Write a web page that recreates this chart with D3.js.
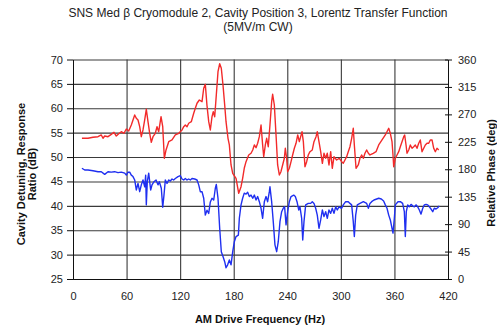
<!DOCTYPE html>
<html>
<head>
<meta charset="utf-8">
<script src="https://cdn.jsdelivr.net/npm/d3@7"></script>
<style>
  html, body { margin: 0; padding: 0; background: #fff; }
  svg { display: block; font-family: Arial, "Liberation Sans", sans-serif; }
</style>
</head>
<body>
<svg id="chart" width="497" height="327"></svg>
<script>
// Axis ticks
const xTicks = [0, 60, 120, 180, 240, 300, 360, 420];
const dbTicks = [25, 30, 35, 40, 45, 50, 55, 60, 65, 70];
const phaseTicks = [0, 45, 90, 135, 180, 225, 270, 315, 360];

// Detuning response ratio (dB), left axis
const freqDb = [10,13.1,16.8,22.4,28,31.7,35.5,39.2,42.9,46.6,50.4,54.1,57.9,59.7,61.6,63.5,65.3,67.2,69.1,70.9,72.8,74.7,76.5,78.4,80.3,81.4,82.1,83.2,84.8,87,88.5,90.7,93,95.2,96.7,98.9,100.5,101.9,103.4,105.3,107.2,109,110.9,112.7,114.6,117.6,120.2,122.1,124,125.8,127.7,129.6,131.4,133.3,136.3,138.9,140.8,142.6,144.5,146.4,148.2,150.1,152,153.8,155.7,157.6,159.4,160.5,162.4,164.3,166.1,168,169.9,171.4,173.2,175.1,177,178.9,180.7,182.6,185.2,186.3,188.2,190,191.8,193.8,195.6,197.5,199.4,201.3,203.1,205,206.8,208.7,210.6,212.4,214.3,216.2,218,219.9,220.6,222.5,224.3,226.2,228.1,229.9,231.8,233.7,235.5,237,238.6,240.4,242.3,244.2,247.2,249,250.9,252.8,254.2,256.1,257.3,258.7,260.6,263.5,266.2,268,269.9,271.8,273.6,275.5,277.4,279.3,281.1,283,284.8,286.7,288.6,290.4,292.3,294.2,296,297.9,300.9,302.7,305.4,308.3,310.2,312.1,313.9,315.1,316.6,318.4,321.4,325.2,328.9,330.8,332.6,334.5,337.1,342.4,345.3,347.9,349.8,351.7,353.6,355.4,357.3,358.4,359.9,361,364,366.6,369.2,371.1,372.2,373.3,374.9,376.7,378.6,380.4,382.3,384.2,386.1,387.9,389.8,391.7,393.5,395.4,397.3,399.1,401,402.9,404.6,406.6,408.5,410.2];
const ratioDb = [47.7,47.35,47.35,47.2,47.0,47.0,46.45,47.0,46.9,47.0,46.8,46.9,46.7,46.3,46.9,46.9,46.3,46.0,45.3,43.25,44.6,42.9,44.3,45.3,43.9,46.3,40.2,44.95,46.7,43.25,44.3,44.95,45.3,44.3,44.95,43.6,39.7,42.2,45.3,44.6,45.3,45.1,45.5,45.3,45.6,46.0,46.2,45.5,45.3,45.6,45.3,45.5,45.3,45.6,45.5,45.3,44.3,42.9,42.9,41.55,38.1,39.1,38.45,40.8,41.55,41.2,43.6,44.4,41.55,35.4,30.6,29.6,28.55,27.3,27.9,28.9,27.9,30.6,32.65,33.7,34.0,37.45,40.2,41.55,42.6,42.4,42.8,41.9,42.2,41.55,42.2,41.2,41.9,40.85,39.5,37.45,40.85,41.9,40.85,42.9,43.9,40.85,36.75,32.0,30.6,32.65,36.75,38.8,39.5,39.8,36.1,38.8,40.85,41.9,42.2,41.9,40.85,39.15,39.8,37.45,33.0,36.75,40.2,40.5,40.5,40.85,40.5,39.5,38.1,35.4,37.1,39.15,37.8,38.8,37.45,39.15,38.45,39.5,38.45,39.8,39.15,39.8,39.5,40.2,40.85,40.85,40.5,40.2,36.75,33.7,38.1,40.2,40.5,40.85,40.5,39.5,40.5,40.85,41.2,41.55,41.4,41.0,40.2,39.5,38.1,37.1,35.4,34.4,37.45,40.2,40.85,40.85,40.5,38.8,33.7,38.8,40.2,39.8,40.3,40.0,39.8,40.2,39.8,39.15,38.3,39.5,40.2,40.3,40.2,39.8,39.35,38.8,39.5,39.35,39.6,40.0];

// Relative phase (deg), right axis
const freqPhase = [10,16.8,22.4,28,31.7,33.6,35.5,39.2,42.9,45.9,48.5,51.2,54.1,57.1,59.7,62.4,65.3,69.1,70.9,72.8,74.7,76.5,78.4,80.3,82.1,84,85.9,87.7,89.6,92.2,94.1,96,98.6,100.5,102.3,104.2,107.2,110.9,114.6,118.4,122.1,124,125.8,127.7,129.6,132.5,135.2,137,138.9,141.5,144.5,146.4,148.2,150,152,153.8,155.7,157.1,158.7,160.5,162.4,164.3,166.1,168,169.9,171.4,173.6,175.1,177,178.9,182.6,185.6,188.2,190,191.8,193.8,196.8,199.4,201.3,203.1,205,206.8,208.7,210.6,212.4,213.6,215.4,216.9,218.7,220.6,222.5,223.6,225.5,227.4,229.2,231.1,232.9,234.8,236.7,237.8,239.3,240.4,242.3,244.2,246,247.9,249.8,251.7,253.5,256.5,258,259.8,261.7,263.5,265.4,268,269.9,272.2,273.6,275.5,277.4,279.3,281.1,283,284.8,286.7,288.6,290.4,292.3,295.3,298.3,300.9,302.7,304.6,306.5,308.3,310.2,312.1,313.9,315.1,317,319.5,321.4,323.3,325.2,327,328.9,330.8,332.6,336.3,339.4,342.4,346.1,349.8,353.6,355.4,357.3,358.4,359.2,361,362.9,364.8,366.6,368.5,370.4,371.5,373,374.1,376,377.8,379.7,381.6,383.4,385.3,387.2,389,390.9,392.8,394.6,396.5,398.4,400.2,402.1,404,405.8,407.7,409.6];
const phaseDeg = [230.8,230.8,232.4,233.4,236.2,230.8,234.5,233.4,237.3,240.6,234.5,238.3,241.6,239,246,242.7,252.6,269,263.6,260.8,249.8,233.4,244.4,260.8,278.3,258,239,224.2,233.4,239,249.8,241.6,266.2,249.8,198,211.6,225.2,228,236.2,239,244.4,249.8,252.6,249.8,255.4,258,271.8,280,288.2,293.6,290.8,312.8,319.3,285.4,258,244.4,266.2,274.4,266.2,301.8,340,353,345.6,318.2,285.4,258,230.8,219.8,187,173.4,165.2,140.5,151.4,165.2,181.6,192.4,203.4,206.2,211.6,219.8,215.3,222.6,233.4,252.6,219.8,200.6,219.8,230.8,217,252.6,290.8,302.9,285.4,236.2,187,170.6,176,187,198,214.4,198,176,181.6,192.4,203.4,214.4,222.6,236.2,225.2,241.6,225.2,184.2,192.4,203.4,208.8,211.6,225.2,233.4,241.6,225.2,208.8,189.8,206.2,198,206.2,187,208.8,181.6,200.6,195.2,198,192.4,189.8,195.2,200.6,208.8,217,230.8,247.2,219.8,181.6,187,198,203.4,198,206.2,211.6,206.2,203.4,206.2,208.8,219.8,228,236.2,247.2,239,225.2,203.4,184.2,198,203.4,208.8,217,225.2,233.4,236.2,219.8,206.2,211.6,219.8,214.4,217,219.8,214.4,222.6,228,208.8,214.4,219.8,222.6,222.6,228,228,214.4,208.8,214.4,211.6];

const svg = d3.select("#chart");
const plotLeft = 73, plotRight = 448, plotTop = 59.5, plotBottom = 279;

const x = d3.scaleLinear().domain([0, 420]).range([plotLeft, plotRight]);
const yDb = d3.scaleLinear().domain([25, 70]).range([plotBottom, plotTop]);
const yPh = d3.scaleLinear().domain([0, 360]).range([plotBottom, plotTop]);

// Gridlines
const grid = svg.append("g").attr("class", "grid");
grid.append("g")
  .attr("transform", `translate(${plotLeft},0)`)
  .call(d3.axisLeft(yDb).tickValues(dbTicks).tickSize(-(plotRight - plotLeft)).tickFormat(""))
  .call(g => g.select(".domain").remove())
  .call(g => g.selectAll("line").attr("stroke", "#3a3a3a").attr("stroke-width", 1.1));
grid.append("g")
  .attr("transform", `translate(0,${plotBottom})`)
  .call(d3.axisBottom(x).tickValues(xTicks.slice(1, -1)).tickSize(-(plotBottom - plotTop)).tickFormat(""))
  .call(g => g.select(".domain").remove())
  .call(g => g.selectAll("line").attr("stroke", "#3a3a3a").attr("stroke-width", 1.1));

// Series lines
const lineDb = d3.line().x((d, i) => x(freqDb[i])).y(d => yDb(d));
const linePh = d3.line().x((d, i) => x(freqPhase[i])).y(d => yPh(d));

svg.append("path").datum(ratioDb)
  .attr("d", lineDb).attr("fill", "none")
  .attr("stroke", "#1f2ff0").attr("stroke-width", 1.4).attr("stroke-linejoin", "round");
svg.append("path").datum(phaseDeg)
  .attr("d", linePh).attr("fill", "none")
  .attr("stroke", "#f22a2a").attr("stroke-width", 1.4).attr("stroke-linejoin", "round");

// Axes
const tickFont = g => g.selectAll("text")
  .attr("font-size", 11).attr("fill", "#222")
  .attr("font-family", 'Arial, "Liberation Sans", sans-serif');

svg.append("g")
  .attr("transform", `translate(${plotLeft},0)`)
  .call(d3.axisLeft(yDb).tickValues(dbTicks).tickSize(6).tickPadding(4).tickSizeOuter(0))
  .call(g => g.selectAll("path, line").attr("stroke", "#111"))
  .call(tickFont);

const rAxis = svg.append("g")
  .attr("transform", `translate(${plotRight},0)`)
  .call(d3.axisRight(yPh).tickValues(phaseTicks).tickSize(4).tickPadding(6).tickSizeOuter(0))
  .call(g => g.selectAll("path, line").attr("stroke", "#111"))
  .call(tickFont);
rAxis.selectAll(".tick line").attr("x1", -3);

svg.append("g")
  .attr("transform", `translate(0,${plotBottom})`)
  .call(d3.axisBottom(x).tickValues(xTicks).tickSize(0).tickPadding(13).tickSizeOuter(0))
  .call(g => g.select(".domain").attr("stroke", "#111"))
  .call(tickFont);

// Titles
const title = svg.append("text")
  .attr("text-anchor", "middle").attr("font-size", 12).attr("fill", "#222");
title.append("tspan").attr("x", 258).attr("y", 16.5)
  .text("SNS Med β Cryomodule 2, Cavity Position 3, Lorentz Transfer Function");
title.append("tspan").attr("x", 258).attr("y", 30.5).text("(5MV/m CW)");

svg.append("text")
  .attr("x", 260).attr("y", 323)
  .attr("text-anchor", "middle").attr("font-size", 11).attr("font-weight", "bold").attr("fill", "#111")
  .text("AM Drive Frequency (Hz)");

const yTitle = svg.append("text")
  .attr("transform", "translate(25,174) rotate(-90)")
  .attr("text-anchor", "middle").attr("font-size", 11).attr("font-weight", "bold").attr("fill", "#111");
yTitle.append("tspan").attr("x", 0).attr("y", 0).text("Cavity Detuning, Response");
yTitle.append("tspan").attr("x", 0).attr("y", 11).text("Ratio (dB)");

svg.append("text")
  .attr("transform", "translate(494.5,173) rotate(-90)")
  .attr("text-anchor", "middle").attr("font-size", 11).attr("font-weight", "bold").attr("fill", "#111")
  .text("Relative Phase (deg)");
</script>
</body>
</html>
